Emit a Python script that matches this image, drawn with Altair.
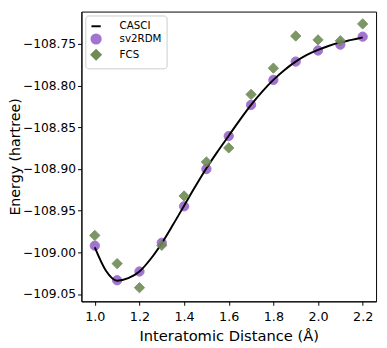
import altair as alt
import pandas as pd

# Data
dist = [1.0, 1.1, 1.2, 1.3, 1.4, 1.5, 1.6, 1.7, 1.8, 1.9, 2.0, 2.1, 2.2]
sv2rdm = [-108.992, -109.0335, -109.023, -108.9885, -108.9447, -108.900, -108.8604,
          -108.823, -108.793, -108.771, -108.7577, -108.7507, -108.7411]
fcs = [-108.9797, -109.0135, -109.0424, -108.9916, -108.9323, -108.8915, -108.8746,
       -108.8104, -108.7789, -108.7403, -108.745, -108.746, -108.7258]

casci_x = [1.00, 1.05, 1.10, 1.15, 1.20, 1.25, 1.30, 1.35, 1.40, 1.45, 1.50, 1.55,
           1.60, 1.65, 1.70, 1.75, 1.80, 1.85, 1.90, 1.95, 2.00, 2.05, 2.10, 2.15, 2.20]
casci_y = [-108.994, -109.022, -109.034, -109.031, -109.023, -109.008, -108.989,
           -108.967, -108.944, -108.921, -108.899, -108.879, -108.860, -108.841,
           -108.823, -108.807, -108.793, -108.781, -108.771, -108.763, -108.757,
           -108.752, -108.748, -108.745, -108.742]

series = ["CASCI", "sv2RDM", "FCS"]
colors = ["#000000", "#a274cf", "#6e8b55"]
shapes = ["stroke", "circle", "diamond"]
y_ticks = [-109.05, -109.00, -108.95, -108.90, -108.85, -108.80, -108.75]
x_ticks = [1.0, 1.2, 1.4, 1.6, 1.8, 2.0, 2.2]

line_df = pd.DataFrame({"x": casci_x, "y": casci_y, "series": "CASCI"})
sv_df = pd.DataFrame({"x": dist, "y": sv2rdm, "series": "sv2RDM"})
fcs_df = pd.DataFrame({"x": dist, "y": fcs, "series": "FCS"})

xs = alt.X("x:Q", scale=alt.Scale(domain=[0.94, 2.26], nice=False, zero=False),
           axis=alt.Axis(values=x_ticks, format=".1f", title="Interatomic Distance (Å)",
                         labelPadding=6, titleY=40, titleBaseline="alphabetic",
                         labelFontSize=13))
ys = alt.Y("y:Q", scale=alt.Scale(domain=[-109.0588, -108.711], nice=False, zero=False),
           axis=alt.Axis(values=y_ticks, format=".2f", title="Energy (hartree)",
                         labelPadding=2, titleX=-63, titleBaseline="alphabetic",
                         titleFontSize=14.5, labelFontSize=12.5))

legend = alt.Legend(
    title=None, orient="top-left", offset=4,
    strokeColor="#cccccc", fillColor="white", cornerRadius=3, padding=5,
    labelFontSize=10.5, symbolSize=90, symbolStrokeWidth=2, rowPadding=-2,
    labelFont="DejaVu Sans", labelColor="black", labelOffset=18,
)
fill = alt.Fill("series:N", scale=alt.Scale(domain=series, range=colors), legend=legend)
stroke = alt.Stroke("series:N", scale=alt.Scale(domain=series, range=colors), legend=legend)
shape = alt.Shape("series:N", scale=alt.Scale(domain=series, range=shapes), legend=legend)

circles = alt.Chart(sv_df).mark_point(filled=True, size=90, opacity=1, strokeWidth=1).encode(
    x=xs, y=ys, fill=fill, stroke=stroke, shape=shape)
line = alt.Chart(line_df).mark_line(strokeWidth=2, interpolate="monotone").encode(
    x=xs, y=ys, stroke=stroke)
diamonds = alt.Chart(fcs_df).mark_point(filled=True, size=110, opacity=0.9, strokeWidth=1).encode(
    x=xs, y=ys, fill=fill, stroke=stroke, shape=shape)

chart = alt.layer(circles, line, diamonds).properties(
    width=301, height=296,
    autosize="none",
    padding={"left": 75, "top": 0, "right": 3, "bottom": 44},
).configure_view(stroke="black", strokeWidth=1).configure_axis(
    grid=False, domainColor="black", tickColor="black", tickSize=4,
    labelFont="DejaVu Sans", titleFont="DejaVu Sans",
    titleFontSize=15, labelColor="black", titleColor="black",
    titleFontWeight="normal",
)

chart.save("out.html", embed_options={"renderer": "svg", "actions": False})
